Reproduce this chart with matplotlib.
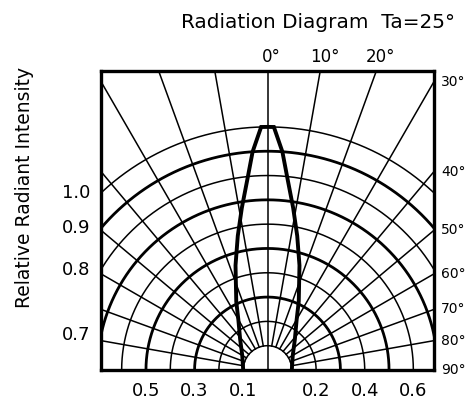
import numpy as np
import matplotlib
matplotlib.use("Agg")
import matplotlib.pyplot as plt

# ---------------- data ----------------
ring_values = [0.1, 0.2, 0.3, 0.4, 0.5, 0.6, 0.7, 0.8, 0.9, 1.0]
bold_rings = [0.3, 0.5, 0.7, 0.9]
spoke_angles = [-90, -80, -70, -60, -50, -40, -30, -20, -10, 0,
                10, 20, 30, 40, 50, 60, 70, 80, 90]
top_angle_labels = [0, 10, 20]
side_angle_labels = [30, 40, 50, 60, 70, 80, 90]
left_intensity_labels = [1.0, 0.9, 0.8, 0.7]
bottom_left_labels = [0.5, 0.3, 0.1]
bottom_right_labels = [0.2, 0.4, 0.6]
lobe_angles = [0, 1.5, 3.9, 6, 9, 12.5, 17, 24.5, 30, 42, 60, 90]
lobe_intensity = [1.0, 1.0, 0.9, 0.79, 0.675, 0.565, 0.45, 0.31, 0.24, 0.168, 0.12, 0.1]
title_text = "Radiation Diagram  Ta=25°"
ylabel_text = "Relative Radiant Intensity"

# ---------------- figure ----------------
W, H = 469, 405
fig = plt.figure(figsize=(W / 100, H / 100), dpi=100)
fig.patch.set_facecolor("white")
ax = fig.add_axes([101 / W, 35 / H, 333 / W, 299 / H])
XR = 0.685
YT = 1.23
ax.set_xlim(-XR, XR)
ax.set_ylim(0, YT)
ax.set_xticks([])
ax.set_yticks([])
for s in ax.spines.values():
    s.set_linewidth(2.4)
    s.set_color("black")

FONT = dict(family="DejaVu Sans", color="black")

def pol(theta_deg, r):
    t = np.radians(theta_deg)
    return r * np.sin(t), r * np.cos(t)

# rings
phi = np.linspace(-90, 90, 721)
for v in ring_values:
    x, y = pol(phi, v)
    lw = 2.0 if v in bold_rings else 1.1
    ax.plot(x, y, color="black", lw=lw, solid_capstyle="butt")

# spokes
for a in spoke_angles:
    r0 = 0.0 if a == 0 else ring_values[0]
    x, y = pol(np.array([a, a]), np.array([r0, 3.0]))
    ax.plot(x, y, color="black", lw=1.1)

# radiation lobe
la = np.array(lobe_angles, dtype=float)
li = np.array(lobe_intensity, dtype=float)
ang = np.concatenate([-la[::-1], la[1:]])
inten = np.concatenate([li[::-1], li[1:]])
x, y = pol(ang, inten)
ax.plot(x, y, color="black", lw=2.8, solid_joinstyle="miter")

# labels: top angles
for a in top_angle_labels:
    xt = YT * np.tan(np.radians(a))
    ax.annotate(f"{a}°", (xt, YT), xytext=(3, 10), textcoords="offset points",
                ha="center", va="center", fontsize=12, annotation_clip=False, **FONT)

# labels: right side angles
for a in side_angle_labels:
    yt = XR / np.tan(np.radians(a))
    ax.annotate(f"{a}°", (XR, yt), xytext=(5, 0), textcoords="offset points",
                ha="left", va="center", fontsize=10, annotation_clip=False, **FONT)

# labels: left intensities
for v in left_intensity_labels:
    yt = np.sqrt(max(v * v - XR * XR, 0.0))
    ax.annotate(f"{v:.1f}", (-XR, yt), xytext=(-18, 0), textcoords="offset points",
                ha="center", va="center", fontsize=13, annotation_clip=False, **FONT)

# labels: bottom intensities
for v in bottom_left_labels:
    ax.annotate(f"{v:.1f}", (-v, 0), xytext=(0, -15), textcoords="offset points",
                ha="center", va="center", fontsize=13, annotation_clip=False, **FONT)
for v in bottom_right_labels:
    ax.annotate(f"{v:.1f}", (v, 0), xytext=(0, -15), textcoords="offset points",
                ha="center", va="center", fontsize=13, annotation_clip=False, **FONT)

fig.text(455 / W, 1 - 22 / H, title_text, ha="right", va="center", fontsize=14.4, **FONT)
fig.text(25 / W, 1 - 187 / H, ylabel_text, ha="center", va="center", rotation=90,
         fontsize=13.5, **FONT)

fig.savefig("out.png", dpi=100, facecolor="white")
